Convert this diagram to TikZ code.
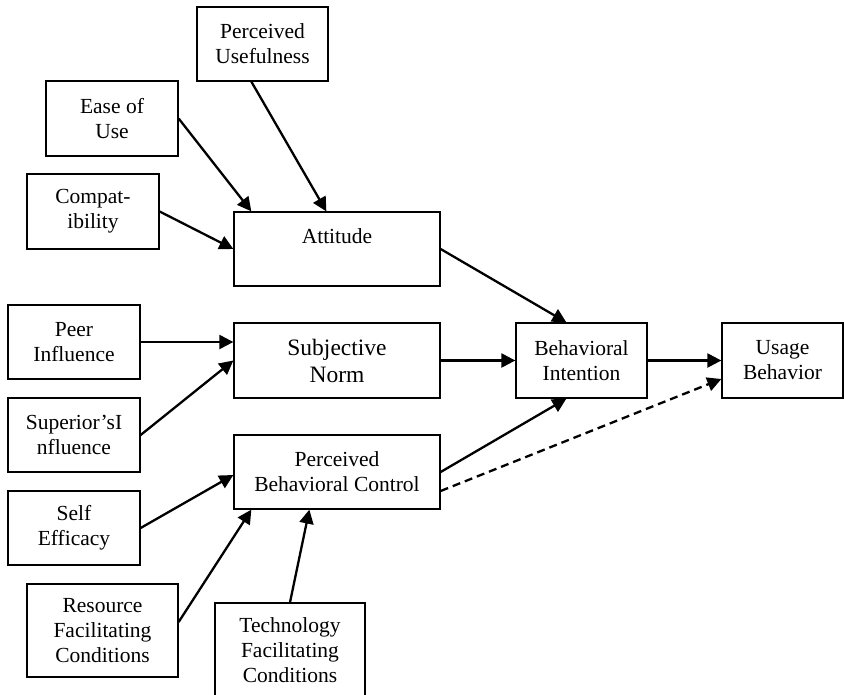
\documentclass[tikz,border=0pt]{standalone}
\usepackage{fontspec}
\setmainfont{Liberation Serif}
\usetikzlibrary{arrows.meta}
\begin{document}
\begin{tikzpicture}[x=1pt,y=-1pt,
  box/.style={draw, line width=1.3pt, rectangle, align=center, inner sep=0pt,
    font=\fontsize{21.5}{25}\selectfont},
  arr/.style={line width=2.3pt, -{Triangle[length=14pt,width=14pt]}},
  dsh/.style={arr, dash pattern=on 8pt off 5pt}]
\useasboundingbox (0,0) rectangle (844,694);
\node[box, minimum width=131pt, minimum height=74pt] (pu) at (262.5,44) {Perceived\\Usefulness};
\node[box, minimum width=132pt, minimum height=75pt] (eou) at (112,118.5) {Ease of\\Use};
\node[box, minimum width=132pt, minimum height=75pt] (comp) at (93,211.5) {Compat-\\ibility};
\node[box, minimum width=206pt, minimum height=74pt] (att) at (337,249) {Attitude\\\mbox{}};
\node[box, minimum width=132pt, minimum height=74pt] (peer) at (74,342) {Peer\\Influence};
\node[box, minimum width=206pt, minimum height=75pt, font=\fontsize{23.5}{27}\selectfont] (sn) at (337,360.5) {Subjective\\Norm};
\node[box, minimum width=132pt, minimum height=74pt] (sup) at (74,435) {Superior’sI\\nfluence};
\node[box, minimum width=206pt, minimum height=74pt] (pbc) at (337,472) {Perceived\\Behavioral Control};
\node[box, minimum width=132pt, minimum height=74pt] (se) at (74,528) {Self\\Efficacy};
\node[box, minimum width=151pt, minimum height=93pt] (rfc) at (102.5,630.5) {Resource\\Facilitating\\Conditions};
\node[box, minimum width=150pt, minimum height=94pt] (tfc) at (290,650) {Technology\\Facilitating\\Conditions};
\node[box, minimum width=131pt, minimum height=75pt] (bi) at (581.5,360.5) {Behavioral\\Intention};
\node[box, minimum width=121pt, minimum height=75pt] (ub) at (782.5,360.5) {Usage\\Behavior};

\draw[arr] (eou.east) -- ([xshift=18pt]att.north west);
\draw[arr] ([xshift=55pt]pu.south west) -- ([xshift=93pt]att.north west);
\draw[arr] (comp.east) -- (att.west);
\draw[arr] (peer.east) -- ([yshift=18.5pt]sn.west);
\draw[arr] (sup.east) -- (sn.west);
\draw[arr] (se.east) -- ([yshift=-3pt]pbc.west);
\draw[arr] ([yshift=8.5pt]rfc.east) -- ([xshift=18pt]pbc.south west);
\draw[arr] (tfc.north) -- ([xshift=76pt]pbc.south west);
\draw[arr] (att.east) -- ([xshift=51pt]bi.north west);
\draw[arr] (sn.east) -- (bi.west);
\draw[arr] (pbc.east) -- ([xshift=51pt]bi.south west);
\draw[arr] (bi.east) -- (ub.west);
\draw[dsh] ([yshift=-19pt]pbc.east) -- ([yshift=-18.5pt]ub.west);
\end{tikzpicture}
\end{document}
